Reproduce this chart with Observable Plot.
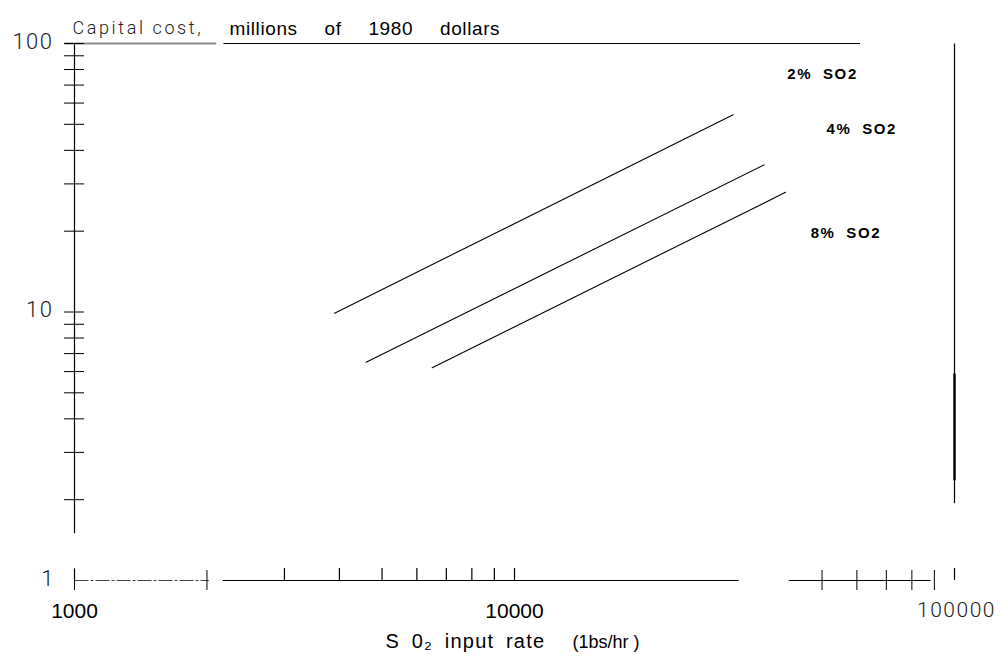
<!DOCTYPE html>
<html>
<head>
<meta charset="utf-8">
<script src="https://cdn.jsdelivr.net/npm/d3@7"></script>
<script src="https://cdn.jsdelivr.net/npm/@observablehq/plot@0.6"></script>
<style>
  body { margin: 0; background: #fff; }
</style>
</head>
<body>
<div id="chart"></div>
<script>
// ---- data ----
const seriesNames = ["2% SO2", "4% SO2", "8% SO2"];
const rateStart = [3900, 4600, 6500];
const rateEnd = [31400, 36900, 41300];
const costStart = [9.9, 6.5, 6.2];
const costEnd = [54.3, 35.3, 27.9];
const labelRate = [41700, 51200, 47100];
const labelCost = [76.7, 47.8, 19.6];

const yMinorTicks = [2, 3, 4, 5, 6, 7, 8, 9, 10, 20, 30, 40, 50, 60, 70, 80, 90, 100];
const xCrossTicks = [1000, 2000, 50000, 60000, 70000, 80000, 90000];
const xUpTicks = [3000, 4000, 5000, 6000, 7000, 8000, 9000, 10000, 100000];
const yTickValues = [1, 10, 100];
const yTickLabels = ["1", "10", "100"];
const xTickValues = [1000, 10000, 100000];
const xTickLabels = ["1000", "10000", "100000"];

const titleLight = "Capital cost,";
const titleRest = "millions of 1980 dollars";
const xTitle = "S 0\u2082 input rate";
const xUnit = "(1bs/hr )";

// broken frame lines, as in the scanned original
const bottomSpans = [[1000, 2020], [2170, 32300], [42000, 88200]]; // rate spans at cost 1
const topSpans = [[950, 2100], [2180, 61000]];                    // rate spans at cost 100
const leftSpans = [[1.5, 100], [1, 1.11]];                         // cost spans at rate 1000
const rightSpans = [[1.94, 100]];                                  // cost spans at rate 100000
const rightHeavySpans = [[2.36, 5.9]];

// ---- tables built from the arrays ----
const seriesPoints = seriesNames.flatMap((name, i) => [
  {name, rate: rateStart[i], cost: costStart[i]},
  {name, rate: rateEnd[i], cost: costEnd[i]}
]);
const seriesLabels = seriesNames.map((name, i) => ({name, rate: labelRate[i], cost: labelCost[i]}));

const frameSegs = [
  ...bottomSpans.map(([a, b], i) => ({x1: a, x2: b, y1: 1, y2: 1, kind: i === 0 ? "dash" : "solid"})),
  ...topSpans.map(([a, b], i) => ({x1: a, x2: b, y1: 100, y2: 100, kind: i === 0 ? "gray" : "solid"})),
  ...leftSpans.map(([a, b]) => ({x1: 1000, x2: 1000, y1: a, y2: b, kind: "solid"})),
  ...rightSpans.map(([a, b]) => ({x1: 100000, x2: 100000, y1: a, y2: b, kind: "solid"}))
];
const heavySegs = rightHeavySpans.map(([a, b]) => ({x1: 100000, x2: 100000, y1: a, y2: b}));

const yLabels = yTickValues.map((v, i) => ({v, t: yTickLabels[i]}));
const xLabels = xTickValues.map((v, i) => ({v, t: xTickLabels[i]}));

const lightFont = "Roboto, 'Open Sans', sans-serif";
const linkOpts = {x1: "x1", x2: "x2", y1: "y1", y2: "y2"};

const chart = Plot.plot({
  width: 1001,
  height: 660,
  marginLeft: 74,
  marginRight: 47,
  marginTop: 43,
  marginBottom: 80,
  style: {fontFamily: "'Liberation Sans', Arial, sans-serif", background: "#fff", color: "#000"},
  x: {type: "log", domain: [1000, 100000]},
  y: {type: "log", domain: [1, 100]},
  marks: [
    // frame / axis lines
    Plot.link(frameSegs.filter(d => d.kind === "solid"), {...linkOpts, stroke: "#000", strokeWidth: 1.2}),
    Plot.link(frameSegs.filter(d => d.kind === "dash"), {...linkOpts, stroke: "#444", strokeWidth: 1.2, strokeDasharray: "14,2,3,2"}),
    Plot.link(frameSegs.filter(d => d.kind === "gray"), {...linkOpts, stroke: "#888", strokeWidth: 1.8}),
    Plot.link(heavySegs, {...linkOpts, stroke: "#000", strokeWidth: 2.4}),
    // ticks
    Plot.axisY({ticks: yMinorTicks, anchor: "left", tickSize: 20, dx: 10, fill: "none", label: null, strokeWidth: 1}),
    Plot.axisX({ticks: xCrossTicks, anchor: "bottom", tickSize: 20, dy: -10, fill: "none", label: null, strokeWidth: 1}),
    Plot.axisX({ticks: xUpTicks, anchor: "bottom", tickSize: 12, dy: -12, fill: "none", label: null, strokeWidth: 1.2}),
    // tick labels
    Plot.text(yLabels, {y: "v", text: "t", frameAnchor: "left", dx: -21, dy: -2, textAnchor: "end",
      fontFamily: lightFont, fontWeight: 300, fontSize: 22, fill: "#222"}),
    Plot.text(xLabels.filter(d => d.v < 100000), {x: "v", text: "t", frameAnchor: "bottom", dy: 37, fontSize: 21, fill: "#000"}),
    Plot.text(xLabels.filter(d => d.v >= 100000), {x: "v", text: "t", frameAnchor: "bottom", dy: 36, dx: 2,
      fontFamily: lightFont, fontWeight: 300, fontSize: 21, fill: "#222"}),
    // series
    Plot.line(seriesPoints, {x: "rate", y: "cost", z: "name", stroke: "#000", strokeWidth: 1.1}),
    Plot.text(seriesLabels, {x: "rate", y: "cost", text: "name", textAnchor: "start", fontWeight: "bold",
      fontSize: 15, fill: "#000"}),
    // titles
    Plot.text([titleLight], {text: d => d, frameAnchor: "top-left", dx: -2, dy: -22, textAnchor: "start",
      fontFamily: lightFont, fontWeight: 300, fontSize: 18, fill: "#222"}),
    Plot.text([titleRest], {text: d => d, frameAnchor: "top-left", dx: 155, dy: -22, textAnchor: "start",
      fontSize: 19, fill: "#000"}),
    Plot.text([xTitle], {text: d => d, frameAnchor: "bottom-left", dx: 311, dy: 67, textAnchor: "start",
      fontSize: 20, fill: "#000"}),
    Plot.text([xUnit], {text: d => d, frameAnchor: "bottom-left", dx: 498, dy: 67, textAnchor: "start",
      fontSize: 18, fill: "#000"})
  ]
});

// typographic spacing of the scanned lettering
const spacing = new Map([
  [titleLight, "letter-spacing:2.6px"],
  [titleRest, "letter-spacing:0.6px;word-spacing:21px"],
  [xTitle, "letter-spacing:1.2px;word-spacing:5px"],
  ["100", "letter-spacing:1.5px"],
  ["10", "letter-spacing:1.5px"],
  ["100000", "letter-spacing:1.5px"],
  ...seriesNames.map(n => [n, "letter-spacing:1.6px;word-spacing:5px"])
]);
d3.select(chart).selectAll("text").each(function () {
  const s = spacing.get(this.textContent);
  if (s) this.setAttribute("style", s);
});
document.getElementById("chart").appendChild(chart);
</script>
</body>
</html>
